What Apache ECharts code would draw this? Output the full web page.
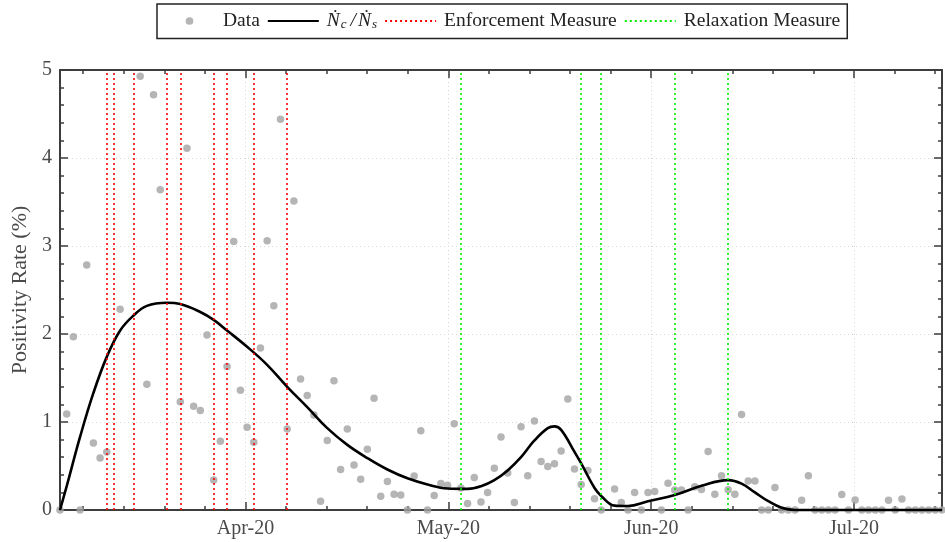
<!DOCTYPE html>
<html>
<head>
<meta charset="UTF-8">
<title>Positivity Rate</title>
<script src="https://cdn.jsdelivr.net/npm/echarts@6/dist/echarts.min.js"></script>
<style>
  html, body { margin: 0; padding: 0; background: #fff; }
  #chart { width: 945px; height: 542px; }
</style>
</head>
<body>
<div id="chart"></div>
<script>
// daily positivity rate (%), index = day since first day shown, null = no value
const rateData = [
  0, 1.09, 1.97, 0, 2.785, 0.76, 0.59, 0.66, null, 2.28,
  null, null, 4.93, 1.43, 4.72, 3.64, null, null, 1.23, 4.11,
  1.18, 1.13, 1.99, 0.34, 0.78, 1.63, 3.05, 1.36, 0.94, 0.77,
  1.84, 3.06, 2.32, 4.44, 0.92, 3.51, 1.49, 1.30, 1.08, 0.10,
  0.79, 1.47, 0.46, 0.92, 0.51, 0.35, 0.69, 1.27, 0.155, 0.325,
  0.18, 0.17, 0, 0.385, 0.90, 0, 0.165, 0.30, 0.28, 0.98,
  0.25, 0.075, 0.37, 0.09, 0.20, 0.475, 0.83, 0.42, 0.086, 0.945,
  0.39, 1.01, 0.55, 0.495, 0.525, 0.67, 1.26, 0.465, 0.29, 0.45,
  0.128, 0, null, 0.24, 0.086, 0, 0.20, 0, 0.20, 0.21,
  0, 0.305, 0.227, 0.227, 0, 0.264, 0.234, 0.665, 0.18, 0.39,
  0.23, 0.18, 1.085, 0.33, 0.33, 0, 0, 0.256, 0, 0,
  0, 0.11, 0.39, 0, 0, 0, 0, 0.177, 0, 0.113,
  0, 0, 0, 0, 0.11, 0, 0.125, 0, 0, 0,
  0, 0, 0
];

// fitted Nc/Ns curve, read at these days
const curveDays = [0, 1, 3, 5, 7, 9, 11, 13, 16, 18, 21, 23, 25, 28, 31, 34, 37, 40, 43, 46,
  49, 52, 55, 58, 61, 63, 65, 67, 69, 71, 73, 74, 75, 77, 78, 80, 81, 83, 85, 88,
  92, 96, 100, 102, 104, 106, 108, 110, 120, 132];
const curveVals = [0, 0.27, 0.83, 1.33, 1.74, 2.04, 2.21, 2.32, 2.355, 2.34, 2.25, 2.16, 2.04, 1.855, 1.65, 1.40, 1.17, 0.93, 0.74, 0.59,
  0.46, 0.36, 0.29, 0.245, 0.24, 0.27, 0.34, 0.45, 0.60, 0.79, 0.93, 0.95, 0.91, 0.66, 0.53, 0.25, 0.16, 0.05, 0.045, 0.10,
  0.17, 0.275, 0.34, 0.30, 0.20, 0.10, 0.025, 0, 0, 0];

const enforcementDays = [7, 8, 11, 16, 18, 23, 25, 29, 34];
const relaxationDays = [60, 78, 81, 92, 100];

// month tick axis (evenly spaced ticks, as in the original)
const tickRange = [2.57, 133];
const tickValues = [30, 60, 90, 120];
const tickLabels = ['Apr-20', 'May-20', 'Jun-20', 'Jul-20'];
const dayRange = [0, 132];

const FONT = 'Liberation Serif';
const AXIS_COLOR = '#3d3d3d';
const LABEL_COLOR = '#4a4a4a';
const curveName = 'Nc/Ns';

function boxAxis(extra) {
  return Object.assign({
    type: 'value',
    axisLine: { show: true, onZero: false, lineStyle: { color: AXIS_COLOR, width: 2 } },
    axisTick: { show: true, inside: true, length: 8, lineStyle: { color: AXIS_COLOR, width: 1.5 } },
    minorTick: { show: true, splitNumber: 5, length: 4, lineStyle: { color: AXIS_COLOR, width: 1.5 } },
    splitLine: { show: false },
    axisLabel: { show: false }
  }, extra);
}

const gridDots = { show: true, lineStyle: { color: '#d6d6d6', width: 1, type: [1, 3] } };
const hideSymbol = { opacity: 0 };
// dot centred in a 53x8 legend box
const dotIcon = 'path://M0,0M53,8M22.5,4a4,4,0,1,0,8,0a4,4,0,1,0,-8,0Z';

const chart = echarts.init(document.getElementById('chart'));

chart.setOption({
  animation: false,
  backgroundColor: '#fff',
  grid: { left: 60, right: 2, top: 70, bottom: 32 },
  legend: {
    top: 4,
    left: 157,
    data: [
      { name: 'Data', icon: dotIcon },
      { name: curveName, itemStyle: hideSymbol },
      { name: 'Enforcement Measure', itemStyle: hideSymbol },
      { name: 'Relaxation Measure', itemStyle: hideSymbol }
    ],
    itemWidth: 51,
    itemHeight: 8,
    itemGap: 7,
    padding: [7, 7],
    borderColor: '#222',
    borderWidth: 1.5,
    backgroundColor: '#fff',
    formatter: n => n === curveName ? '{i|Ṅ}{s|c}{d|/}{i|Ṅ}{s|s}' : n,
    textStyle: {
      fontFamily: FONT, fontSize: 19.5, color: '#222', padding: [0, 0, 0, 3],
      rich: {
        i: { fontFamily: FONT, fontStyle: 'italic', fontSize: 19.5, color: '#222' },
        d: { fontFamily: FONT, fontStyle: 'italic', fontSize: 19.5, color: '#222', padding: [0, 2, 0, 2] },
        s: { fontFamily: FONT, fontStyle: 'italic', fontSize: 13, color: '#222', padding: [8, 2, 0, 1] }
      }
    }
  },
  xAxis: [
    boxAxis({
      position: 'bottom', min: tickRange[0], max: tickRange[1], splitNumber: 4,
      splitLine: gridDots,
      axisLabel: {
        show: true, margin: 9, fontFamily: FONT, fontSize: 20, color: LABEL_COLOR,
        formatter: v => {
          const k = tickValues.indexOf(v);
          return k >= 0 ? tickLabels[k] : '';
        }
      }
    }),
    boxAxis({ position: 'top', min: tickRange[0], max: tickRange[1], splitNumber: 4 }),
    { type: 'value', show: false, min: dayRange[0], max: dayRange[1] }
  ],
  yAxis: [
    boxAxis({
      position: 'left', min: 0, max: 5, interval: 1,
      splitLine: gridDots,
      axisLabel: { show: true, margin: 8, fontFamily: FONT, fontSize: 20, color: LABEL_COLOR },
      name: 'Positivity Rate (%)',
      nameLocation: 'middle',
      nameGap: 26,
      nameTextStyle: { fontFamily: FONT, fontSize: 22, color: LABEL_COLOR }
    }),
    boxAxis({ position: 'right', min: 0, max: 5, interval: 1 })
  ],
  series: [
    {
      name: 'Data',
      type: 'scatter',
      xAxisIndex: 2,
      yAxisIndex: 0,
      clip: false,
      symbolSize: 7.5,
      itemStyle: { color: '#a3a3a3' },
      data: rateData.map((v, i) => v === null ? null : [i, v]).filter(d => d),
      z: 2
    },
    {
      name: curveName,
      type: 'line',
      xAxisIndex: 2,
      yAxisIndex: 0,
      clip: false,
      smooth: 0.4,
      symbol: 'none',
      lineStyle: { color: '#000', width: 2.6 },
      itemStyle: { color: '#000' },
      data: curveDays.map((d, i) => [d, curveVals[i]]),
      z: 3
    },
    {
      name: 'Enforcement Measure',
      type: 'line',
      xAxisIndex: 2,
      yAxisIndex: 0,
      symbol: 'none',
      data: [],
      lineStyle: { color: '#ff0000', width: 1.6, type: [2, 3] },
      itemStyle: { color: '#ff0000' },
      markLine: {
        silent: true, symbol: 'none', label: { show: false },
        lineStyle: { color: '#ff0000', width: 1.6, type: [2, 3] },
        data: enforcementDays.map(d => ({ xAxis: d }))
      },
      z: 4
    },
    {
      name: 'Relaxation Measure',
      type: 'line',
      xAxisIndex: 2,
      yAxisIndex: 0,
      symbol: 'none',
      data: [],
      lineStyle: { color: '#00ee00', width: 1.6, type: [2, 3] },
      itemStyle: { color: '#00ee00' },
      markLine: {
        silent: true, symbol: 'none', label: { show: false },
        lineStyle: { color: '#00ee00', width: 1.6, type: [2, 3] },
        data: relaxationDays.map(d => ({ xAxis: d }))
      },
      z: 4
    }
  ]
});
</script>
</body>
</html>
